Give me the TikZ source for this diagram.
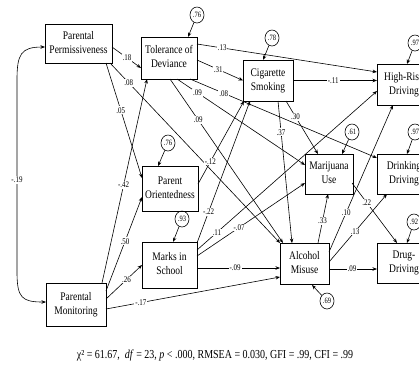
\documentclass[tikz,border=0pt]{standalone}
\usepackage{fontspec}
\setmainfont{Liberation Serif}
\usetikzlibrary{arrows.meta,calc,shapes.geometric}

% labels are collected and drawn after all paths, so every label cuts a gap
\makeatletter
\newcommand\pendinglabels{}
\newcommand\pathlbl[4]{%
  \draw[arr] #1 -- #2;%
  \g@addto@macro\pendinglabels{\path #1 -- node[lbl,pos=#3]{\tallsmall{#4}} #2;}}
\makeatother
\newcommand\tallsmall[1]{\scalebox{1}[1.25]{#1}}
\newcommand\boxtext[2]{\scalebox{1}[1.22]{\begin{tabular}{@{}c@{}}#1\\#2\end{tabular}}}

\tikzset{
  box/.style={draw, line width=0.8pt, inner sep=0pt, outer sep=0pt,
    font=\fontsize{9.5}{11.5}\selectfont},
  err/.style={draw, ellipse, line width=0.6pt, minimum width=14pt, minimum height=16pt,
    inner sep=0pt, font=\fontsize{6.5}{7}\selectfont},
  arr/.style={line width=0.6pt, -{Stealth[length=4.5pt,width=3.5pt]}},
  dbl/.style={line width=0.6pt, {Stealth[length=4.5pt,width=3.5pt]}-{Stealth[length=4.5pt,width=3.5pt]}},
  lbl/.style={fill=white, inner sep=0.8pt, font=\fontsize{7}{8}\selectfont}
}

\begin{document}
\begin{tikzpicture}[x=1pt,y=-1pt]
\useasboundingbox (0,0) rectangle (419,368);
\clip (0,0) rectangle (419,368);

% variables
\node[box, minimum width=67pt, minimum height=39pt] (PP) at (78.5,43.5) {\boxtext{Parental}{Permissiveness}};
\node[box, minimum width=56pt, minimum height=42pt] (TD) at (169,58) {\boxtext{Tolerance of}{Deviance}};
\node[box, minimum width=50pt, minimum height=41pt] (CS) at (268,80.5) {\boxtext{Cigarette}{Smoking}};
\node[box, minimum width=54pt, minimum height=41pt] (HR) at (404,84.5) {\boxtext{High-Risk}{Driving}};
\node[box, minimum width=54pt, minimum height=40pt] (DD) at (404,174) {\boxtext{Drinking}{Driving}};
\node[box, minimum width=54pt, minimum height=40pt] (DG) at (404,263) {\boxtext{Drug-}{Driving}};
\node[box, minimum width=48pt, minimum height=40pt] (MU) at (329,174) {\boxtext{Marijuana}{Use}};
\node[box, minimum width=56pt, minimum height=45pt] (PO) at (170,188.5) {\boxtext{Parent}{Orientedness}};
\node[box, minimum width=55pt, minimum height=46pt] (MS) at (169.5,265) {\boxtext{Marks in}{School}};
\node[box, minimum width=60pt, minimum height=43pt] (PM) at (76,304.5) {\boxtext{Parental}{Monitoring}};
\node[box, minimum width=49pt, minimum height=41pt] (AM) at (304.5,263.5) {\boxtext{Alcohol}{Misuse}};

% residual terms
\node[err] (eTD) at (197,15)  {\tallsmall{.76}};
\node[err] (eCS) at (272,38)  {\tallsmall{.78}};
\node[err] (eHR) at (415,43)  {\tallsmall{.97}};
\node[err] (eMU) at (352,132) {\tallsmall{.61}};
\node[err] (eDD) at (415,132) {\tallsmall{.97}};
\node[err] (eDG) at (414,222) {\tallsmall{.92}};
\node[err] (ePO) at (168,143) {\tallsmall{.76}};
\node[err] (eMS) at (182,219) {\tallsmall{.93}};
\node[err] (eAM) at (327,301) {\tallsmall{.69}};

\draw[arr] (eTD) -- ($(TD.north west)+(47,0)$);
\draw[arr] (eCS) -- ($(CS.north west)+(20,0)$);
\draw[arr] (eHR) -- ($(HR.north west)+(30,0)$);
\draw[arr] (eMU) -- ($(MU.north west)+(37,0)$);
\draw[arr] (eDD) -- ($(DD.north west)+(30,0)$);
\draw[arr] (eDG) -- ($(DG.north west)+(30,0)$);
\draw[arr] (ePO) -- ($(PO.north west)+(16,0)$);
\draw[arr] (eMS) -- ($(MS.north west)+(31,0)$);
\draw[arr] (eAM) -- ($(AM.south west)+(32,1)$);

% correlation between the two parenting variables
\coordinate (ccTop) at (17,80);
\coordinate (ccBot) at (17,272);
\draw[dbl] ($(PP.west)+(0,3.5)$) .. controls +(-24,0) and +(0,-26) .. (ccTop)
  -- (ccBot) .. controls +(0,26) and +(-24,0) .. ($(PM.west)+(0,-2.5)$);
\path (ccTop) -- node[lbl,pos=0.52]{\tallsmall{-.19}} (ccBot);

% structural paths
\pathlbl{($(PP.north east)+(0,23)$)}{($(TD.north west)+(0,31)$)}{0.52}{.18}
\pathlbl{($(PP.south east)+(-2,0)$)}{(AM.north west)}{0.11}{.08}
\pathlbl{($(PP.south east)+(-6,0)$)}{($(PO.north west)+(0,12)$)}{0.41}{.05}
\pathlbl{($(PM.north east)+(-4,0)$)}{($(TD.south west)+(6,0)$)}{0.48}{-.42}
\pathlbl{($(PM.north east)+(0,8)$)}{($(PO.south west)+(0,-14)$)}{0.53}{.50}
\pathlbl{($(PM.north east)+(0,16)$)}{($(MS.north west)+(0,23)$)}{0.57}{.26}
\pathlbl{($(PM.north east)+(0,26)$)}{($(AM.north west)+(0,34)$)}{0.2}{-.17}
\pathlbl{($(TD.north east)+(0,7)$)}{($(HR.north west)+(0,8)$)}{0.14}{.13}
\pathlbl{($(TD.north east)+(0,23)$)}{(CS.west)}{0.46}{.31}
\pathlbl{($(TD.south east)+(-7,0)$)}{($(DD.north west)+(0,4)$)}{0.18}{.08}
\pathlbl{($(TD.south east)+(-20,0)$)}{($(MU.north west)+(0,11)$)}{0.16}{.09}
\pathlbl{($(TD.south)+(1,0)$)}{($(AM.north west)+(3,0)$)}{0.25}{.09}
\pathlbl{(CS.east)}{($(HR.north west)+(0,16.5)$)}{0.48}{-.11}
\pathlbl{($(CS.south east)+(-7,0)$)}{($(MU.north west)+(13,0)$)}{0.3}{.30}
\pathlbl{($(CS.south)+(10,0)$)}{($(AM.north west)+(12,0)$)}{0.22}{.37}
\pathlbl{($(PO.north east)+(0,18)$)}{($(CS.south west)+(1,0)$)}{0.27}{-.12}
\pathlbl{($(MS.north east)+(0,1)$)}{($(CS.south west)+(7,0)$)}{0.22}{-.22}
\pathlbl{($(MS.north east)+(0,8)$)}{($(HR.north west)+(0,27)$)}{0.11}{.11}
\pathlbl{($(MS.north east)+(0,14)$)}{($(MU.north west)+(0,29)$)}{0.39}{-.07}
\pathlbl{($(MS.north east)+(0,26)$)}{($(AM.north west)+(0,25)$)}{0.46}{-.09}
\pathlbl{($(AM.north west)+(38,0)$)}{($(MU.south west)+(23,0)$)}{0.45}{.33}
\pathlbl{($(AM.north east)+(0,9)$)}{($(HR.south west)+(16,0)$)}{0.27}{.10}
\pathlbl{($(AM.north east)+(0,19)$)}{($(DD.south west)+(10,0)$)}{0.45}{.13}
\pathlbl{($(AM.north east)+(0,26)$)}{($(DG.north west)+(0,26)$)}{0.48}{.09}
\pathlbl{($(MU.north east)+(-1,29)$)}{($(DG.north west)+(20,0)$)}{0.33}{.22}

\pendinglabels

% fit statistics
\node[font=\fontsize{10}{12}\selectfont] (fit) at (215,355)
  {\scalebox{1}[1.22]{χ² = 61.67,\ \ \textit{df} = 23, \textit{p} < .000, RMSEA = 0.030, GFI = .99, CFI = .99}};
\end{tikzpicture}
\end{document}
